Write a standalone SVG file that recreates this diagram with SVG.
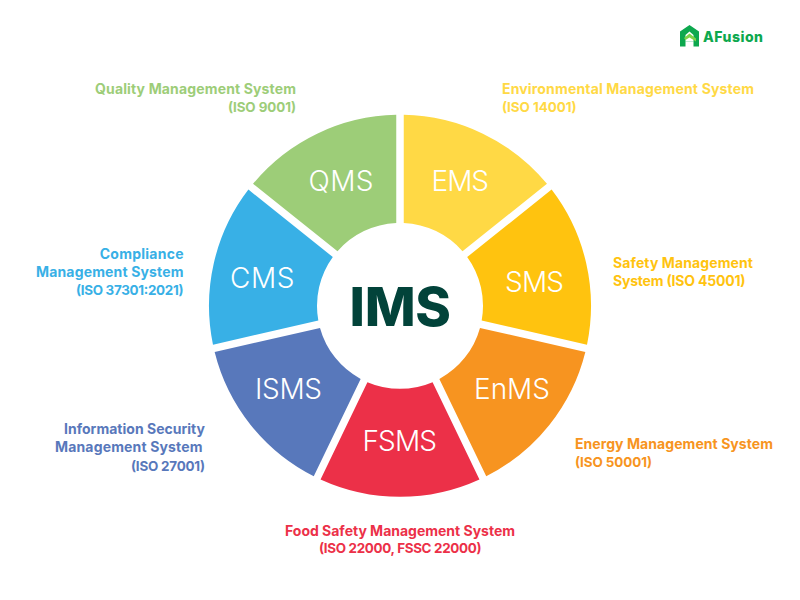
<svg xmlns="http://www.w3.org/2000/svg" width="800" height="600" viewBox="0 0 800 600">
<style>
text{font-family:"Inter","Liberation Sans",sans-serif}
.s{font-size:28px;font-weight:300;fill:#fff}
.l{font-size:14px;font-weight:700}
.i{font-size:13.4px}
.r{transform:translate(0,.8px)}
</style>
<rect width="800" height="600" fill="#fff"/>
<g id="logo">
<path d="M680 31.5L689.5 25L699 31.5V46.5H693.5V41.5H685.5V46.5H680Z" fill="#0DA84E"/>
<path d="M685.5 41.5V35L689.5 31.5L693.5 35V41.5Z" fill="#fff"/>
<path d="M684 38L689.5 33.5L696 38.5V41.5L689.5 37.5L685.5 40Z" fill="#7ED348"/>
<text x="703" y="41.7" font-size="14" font-weight="800" fill="#0DA84E" textLength="60">AFusion</text>
</g>
<g id="qms"><path class="r" d="M396.25 114.04A191 191 0 0 0 253.02 183.03L337.49 250.40A83 83 0 0 1 396.25 222.08Z" fill="#9DCD78"/><text class="s" x="308.5" y="191.3" textLength="65">QMS</text></g>
<g id="ems"><path class="r" d="M403.75 114.04A191 191 0 0 1 546.98 183.03L462.51 250.40A83 83 0 0 0 403.75 222.08Z" fill="#FFD945"/><text class="s" x="431.5" y="191.3" textLength="57.5">EMS</text></g>
<g id="sms"><path class="r" d="M551.6 188.81A191 191 0 0 1 587.01 343.83L481.67 319.8A83 83 0 0 0 467.18 256.25Z" fill="#FFC30F"/><text class="s" x="505" y="291.5" textLength="59">SMS</text></g>
<g id="enms"><path class="r" d="M585.35 351.15A191 191 0 0 1 486.24 475.43L439.35 378.08A83 83 0 0 0 480 327.11Z" fill="#F79420"/><text class="s" x="474" y="398.8" textLength="76">EnMS</text></g>
<g id="fsms"><path class="r" d="M479.46 478.69A191 191 0 0 1 320.54 478.69L367.41 381.33A83 83 0 0 0 432.59 381.33Z" fill="#EC3048"/><text class="s" x="362.5" y="450.5" textLength="74.5">FSMS</text></g>
<g id="isms"><path class="r" d="M313.76 475.43A191 191 0 0 1 214.65 351.15L320 327.11A83 83 0 0 0 360.65 378.08Z" fill="#5878BB"/><text class="s" x="255" y="398.8" textLength="67">ISMS</text></g>
<g id="cms"><path class="r" d="M212.99 343.83A191 191 0 0 1 248.4 188.81L332.82 256.25A83 83 0 0 0 318.33 319.8Z" fill="#38B0E6"/><text class="s" x="230" y="287.8" textLength="64.5">CMS</text></g>
<g id="ims"><text x="349.5" y="325.7" font-size="54" font-weight="800" fill="#02433A" textLength="101.5">IMS</text></g>
<g id="labels">
<g fill="#9DCD78"><text class="l" x="95" y="94" textLength="201">Quality Management System</text><text class="l i" x="228" y="112" textLength="68">(ISO 9001)</text></g>
<g fill="#FFD945"><text class="l" x="502" y="94" textLength="252">Environmental Management System</text><text class="l i" x="502" y="112" textLength="74.5">(ISO 14001)</text></g>
<g fill="#FFC30F"><text class="l" x="613" y="268.3" textLength="140">Safety Management</text><text class="l" x="613" y="286" textLength="132.5">System (ISO 45001)</text></g>
<g fill="#F79420"><text class="l" x="575" y="449.3" textLength="198">Energy Management System</text><text class="l i" x="575" y="467" textLength="77">(ISO 50001)</text></g>
<g fill="#EC3048"><text class="l" x="285" y="535.5" textLength="230">Food Safety Management System</text><text class="l i" x="319" y="553" textLength="162.5">(ISO 22000, FSSC 22000)</text></g>
<g fill="#5878BB"><text class="l" x="64" y="434" textLength="141">Information Security</text><text class="l" x="55" y="452.3" textLength="147.5">Management System</text><text class="l i" x="131" y="470.5" textLength="74">(ISO 27001)</text></g>
<g fill="#38B0E6"><text class="l" x="99.7" y="259.3" textLength="83.8">Compliance</text><text class="l" x="36" y="277" textLength="147.5">Management System</text><text class="l i" x="76" y="295" textLength="107.5">(ISO 37301:2021)</text></g>
</g>
</svg>
